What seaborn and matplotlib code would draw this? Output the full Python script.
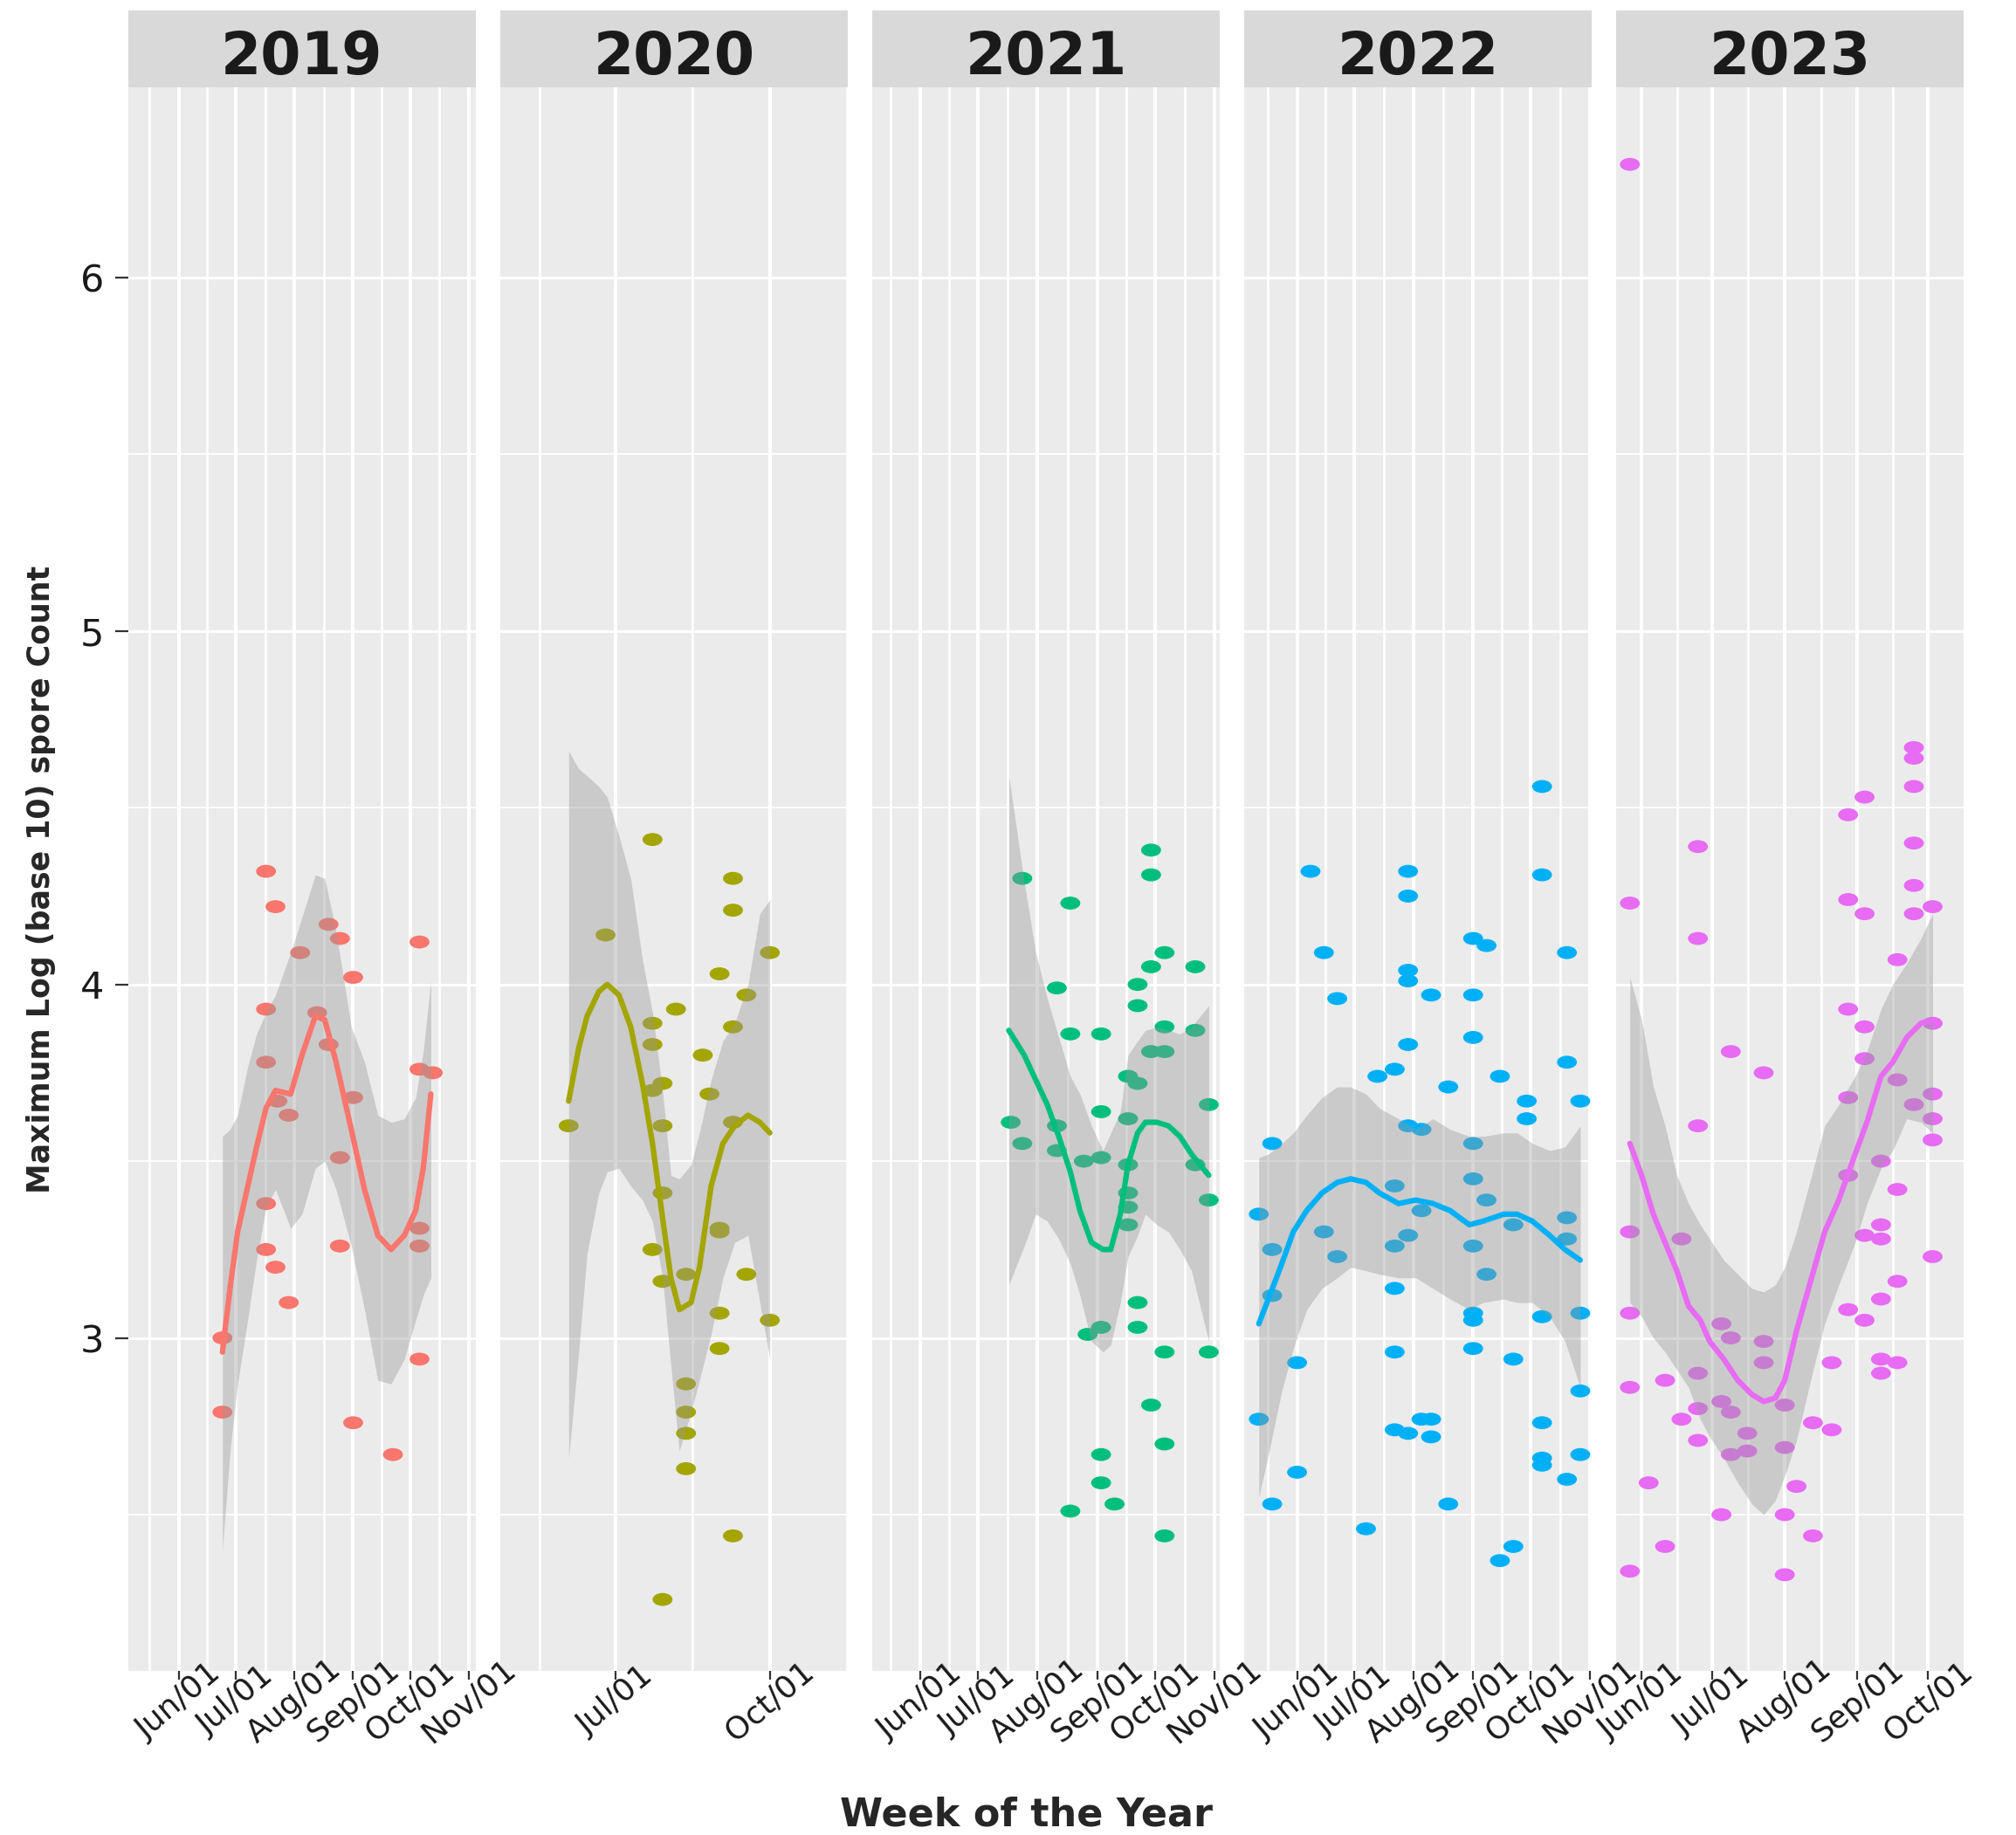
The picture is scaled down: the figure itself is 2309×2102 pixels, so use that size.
import seaborn as sns
import pandas as pd
import numpy as np
import matplotlib.pyplot as plt
import matplotlib.dates as mdates
from matplotlib.path import Path
from matplotlib.patches import Rectangle

years = [2019, 2020, 2021, 2022, 2023]
year_colors = ["#F8766D", "#A3A500", "#00BF7D", "#00B0F6", "#E76BF3"]

# weekly samples (month-day) and max log10 spore count
days_2019 = ["06-24", "06-24", "07-17", "07-17", "07-17", "07-17", "07-17", "07-22", "07-22", "07-23",
             "07-29", "07-29", "08-04", "08-13", "08-19", "08-19", "08-25", "08-25", "08-25", "09-01",
             "09-01", "09-01", "09-22", "10-06", "10-06", "10-06", "10-06", "10-06", "10-13"]
counts_2019 = [3.00, 2.79, 4.32, 3.93, 3.78, 3.38, 3.25, 4.22, 3.20, 3.67,
               3.63, 3.10, 4.09, 3.92, 4.17, 3.83, 4.13, 3.51, 3.26, 4.02,
               3.68, 2.76, 2.67, 4.12, 3.76, 3.31, 3.26, 2.94, 3.75]

days_2020 = ["06-03", "06-25", "07-23", "07-23", "07-23", "07-23", "07-23", "07-29", "07-29", "07-29",
             "07-29", "07-29", "08-06", "08-12", "08-12", "08-12", "08-12", "08-12", "08-22", "08-26",
             "09-01", "09-01", "09-01", "09-01", "09-01", "09-09", "09-09", "09-09", "09-09", "09-09",
             "09-17", "09-17", "10-01", "10-01"]
counts_2020 = [3.60, 4.14, 4.41, 3.89, 3.83, 3.70, 3.25, 3.72, 3.60, 3.41,
               3.16, 2.26, 3.93, 3.18, 2.87, 2.79, 2.73, 2.63, 3.80, 3.69,
               4.03, 3.31, 3.30, 3.07, 2.97, 4.30, 4.21, 3.88, 3.61, 2.44,
               3.97, 3.18, 4.09, 3.05]

days_2021 = ["07-18", "07-24", "07-24", "08-11", "08-11", "08-11", "08-18", "08-18", "08-18", "08-25",
             "08-27", "09-03", "09-03", "09-03", "09-03", "09-03", "09-03", "09-10", "09-17", "09-17",
             "09-17", "09-17", "09-17", "09-17", "09-22", "09-22", "09-22", "09-22", "09-22", "09-29",
             "09-29", "09-29", "09-29", "09-29", "10-06", "10-06", "10-06", "10-06", "10-06", "10-06",
             "10-22", "10-22", "10-22", "10-29", "10-29", "10-29"]
counts_2021 = [3.61, 4.30, 3.55, 3.99, 3.60, 3.53, 4.23, 3.86, 2.51, 3.50,
               3.01, 3.86, 3.64, 3.51, 3.03, 2.67, 2.59, 2.53, 3.74, 3.62,
               3.49, 3.41, 3.37, 3.32, 4.00, 3.94, 3.72, 3.10, 3.03, 4.38,
               4.31, 4.05, 3.81, 2.81, 4.09, 3.88, 3.81, 2.96, 2.70, 2.44,
               4.05, 3.87, 3.49, 3.66, 3.39, 2.96]

days_2022 = ["05-12", "05-12", "05-19", "05-19", "05-19", "05-19", "06-01", "06-01", "06-08", "06-15",
             "06-15", "06-22", "06-22", "07-07", "07-13", "07-22", "07-22", "07-22", "07-22", "07-22",
             "07-22", "07-29", "07-29", "07-29", "07-29", "07-29", "07-29", "07-29", "07-29", "08-05",
             "08-05", "08-05", "08-10", "08-10", "08-10", "08-19", "08-19", "09-01", "09-01", "09-01",
             "09-01", "09-01", "09-01", "09-01", "09-01", "09-01", "09-08", "09-08", "09-08", "09-15",
             "09-15", "09-22", "09-22", "09-22", "09-29", "09-29", "10-07", "10-07", "10-07", "10-07",
             "10-07", "10-07", "10-20", "10-20", "10-20", "10-20", "10-20", "10-27", "10-27", "10-27",
             "10-27"]
counts_2022 = [3.35, 2.77, 3.55, 3.25, 3.12, 2.53, 2.93, 2.62, 4.32, 4.09,
               3.30, 3.96, 3.23, 2.46, 3.74, 3.76, 3.43, 3.26, 3.14, 2.96,
               2.74, 4.32, 4.25, 4.04, 4.01, 3.83, 3.60, 3.29, 2.73, 3.59,
               3.36, 2.77, 3.97, 2.77, 2.72, 3.71, 2.53, 4.13, 3.97, 3.85,
               3.55, 3.45, 3.26, 3.07, 3.05, 2.97, 4.11, 3.39, 3.18, 3.74,
               2.37, 3.32, 2.94, 2.41, 3.67, 3.62, 4.56, 4.31, 3.06, 2.76,
               2.66, 2.64, 4.09, 3.78, 3.34, 3.28, 2.60, 3.67, 3.07, 2.85,
               2.67]

days_2023 = ["05-27", "05-27", "05-27", "05-27", "05-27", "05-27", "06-04", "06-11", "06-11", "06-18",
             "06-18", "06-25", "06-25", "06-25", "06-25", "06-25", "06-25", "07-05", "07-05", "07-05",
             "07-09", "07-09", "07-09", "07-09", "07-16", "07-16", "07-23", "07-23", "07-23", "08-01",
             "08-01", "08-01", "08-01", "08-06", "08-13", "08-13", "08-21", "08-21", "08-28", "08-28",
             "08-28", "08-28", "08-28", "08-28", "09-04", "09-04", "09-04", "09-04", "09-04", "09-04",
             "09-11", "09-11", "09-11", "09-11", "09-11", "09-11", "09-18", "09-18", "09-18", "09-18",
             "09-18", "09-25", "09-25", "09-25", "09-25", "09-25", "09-25", "09-25", "10-03", "10-03",
             "10-03", "10-03", "10-03", "10-03"]
counts_2023 = [6.32, 4.23, 3.30, 3.07, 2.86, 2.34, 2.59, 2.88, 2.41, 3.28,
               2.77, 4.39, 4.13, 3.60, 2.90, 2.80, 2.71, 3.04, 2.82, 2.50,
               3.81, 3.00, 2.79, 2.67, 2.73, 2.68, 3.75, 2.99, 2.93, 2.81,
               2.69, 2.50, 2.33, 2.58, 2.76, 2.44, 2.93, 2.74, 4.48, 4.24,
               3.93, 3.68, 3.46, 3.08, 4.53, 4.20, 3.88, 3.79, 3.29, 3.05,
               3.50, 3.32, 3.28, 3.11, 2.94, 2.90, 4.07, 3.73, 3.42, 3.16,
               2.93, 4.67, 4.64, 4.56, 4.40, 4.28, 4.20, 3.66, 4.22, 3.89,
               3.69, 3.62, 3.56, 3.23]

# loess smooth and its confidence band
fit_days_2019 = ["06-24", "06-28", "07-02", "07-07", "07-12", "07-17", "07-22", "07-30", "08-05", "08-12",
                 "08-17", "08-23", "08-31", "09-07", "09-14", "09-21", "09-28", "10-04", "10-08", "10-12"]
fit_2019 = [2.96, 3.14, 3.30, 3.42, 3.54, 3.65, 3.70, 3.69, 3.80, 3.91,
            3.90, 3.78, 3.59, 3.42, 3.29, 3.25, 3.29, 3.36, 3.48, 3.69]
fit_lo_2019 = [2.40, 2.68, 2.87, 3.04, 3.22, 3.37, 3.42, 3.31, 3.35, 3.48,
               3.50, 3.42, 3.26, 3.08, 2.88, 2.87, 2.94, 3.05, 3.12, 3.17]
fit_hi_2019 = [3.57, 3.59, 3.63, 3.76, 3.86, 3.92, 3.97, 4.09, 4.19, 4.31,
               4.30, 4.15, 3.88, 3.78, 3.63, 3.61, 3.62, 3.68, 3.81, 4.01]

fit_days_2020 = ["06-03", "06-09", "06-14", "06-21", "06-26", "07-03", "07-10", "07-17", "07-23", "07-29",
                 "08-03", "08-08", "08-15", "08-20", "08-27", "09-03", "09-10", "09-18", "09-25", "10-01"]
fit_2020 = [3.67, 3.82, 3.91, 3.98, 4.00, 3.97, 3.88, 3.72, 3.55, 3.34,
            3.17, 3.08, 3.10, 3.20, 3.43, 3.55, 3.60, 3.63, 3.61, 3.58]
fit_lo_2020 = [2.66, 2.96, 3.24, 3.41, 3.47, 3.48, 3.43, 3.39, 3.33, 3.17,
               2.92, 2.68, 2.79, 2.88, 3.01, 3.17, 3.27, 3.29, 3.10, 2.94]
fit_hi_2020 = [4.66, 4.61, 4.59, 4.56, 4.53, 4.42, 4.30, 4.07, 3.92, 3.70,
               3.46, 3.45, 3.49, 3.58, 3.73, 3.84, 3.89, 4.00, 4.20, 4.24]

fit_days_2021 = ["07-17", "07-25", "07-31", "08-06", "08-12", "08-18", "08-23", "08-29", "09-04", "09-08",
                 "09-13", "09-17", "09-22", "09-26", "10-02", "10-08", "10-14", "10-20", "10-29"]
fit_2021 = [3.87, 3.80, 3.73, 3.66, 3.57, 3.47, 3.36, 3.27, 3.25, 3.25,
            3.35, 3.49, 3.58, 3.61, 3.61, 3.60, 3.57, 3.52, 3.46]
fit_lo_2021 = [3.15, 3.26, 3.35, 3.33, 3.28, 3.21, 3.12, 2.99, 2.96, 2.98,
               3.10, 3.23, 3.29, 3.35, 3.32, 3.30, 3.25, 3.19, 2.99]
fit_hi_2021 = [4.59, 4.29, 4.09, 3.96, 3.85, 3.74, 3.69, 3.60, 3.53, 3.58,
               3.64, 3.80, 3.84, 3.87, 3.88, 3.87, 3.86, 3.88, 3.94]

fit_days_2022 = ["05-12", "05-17", "05-24", "05-30", "06-06", "06-14", "06-22", "06-29", "07-07", "07-14",
                 "07-24", "08-02", "08-11", "08-20", "08-30", "09-06", "09-17", "09-24", "10-02", "10-11",
                 "10-19", "10-27"]
fit_2022 = [3.04, 3.11, 3.21, 3.30, 3.36, 3.41, 3.44, 3.45, 3.44, 3.41,
            3.38, 3.39, 3.38, 3.36, 3.32, 3.33, 3.35, 3.35, 3.33, 3.29,
            3.25, 3.22]
fit_lo_2022 = [2.55, 2.67, 2.85, 2.97, 3.08, 3.14, 3.17, 3.20, 3.19, 3.18,
               3.17, 3.17, 3.14, 3.11, 3.08, 3.10, 3.11, 3.10, 3.10, 3.06,
               2.99, 2.86]
fit_hi_2022 = [3.51, 3.52, 3.55, 3.58, 3.63, 3.68, 3.71, 3.71, 3.69, 3.65,
               3.62, 3.59, 3.62, 3.59, 3.57, 3.57, 3.58, 3.58, 3.55, 3.53,
               3.54, 3.60]

fit_days_2023 = ["05-27", "06-01", "06-06", "06-11", "06-16", "06-21", "06-26", "06-30", "07-06", "07-12",
                 "07-18", "07-23", "07-28", "08-01", "08-06", "08-12", "08-18", "08-24", "08-31", "09-05",
                 "09-11", "09-16", "09-22", "09-28", "10-03"]
fit_2023 = [3.55, 3.46, 3.35, 3.27, 3.19, 3.09, 3.05, 2.99, 2.94, 2.88,
            2.84, 2.82, 2.83, 2.88, 3.02, 3.16, 3.30, 3.39, 3.52, 3.61,
            3.74, 3.78, 3.85, 3.89, 3.90]
fit_lo_2023 = [3.10, 3.06, 3.00, 2.96, 2.91, 2.86, 2.77, 2.72, 2.66, 2.59,
               2.53, 2.50, 2.54, 2.61, 2.71, 2.88, 3.04, 3.15, 3.27, 3.38,
               3.48, 3.53, 3.62, 3.61, 3.58]
fit_hi_2023 = [4.02, 3.90, 3.71, 3.60, 3.46, 3.38, 3.32, 3.28, 3.22, 3.18,
               3.14, 3.13, 3.15, 3.20, 3.30, 3.45, 3.60, 3.66, 3.74, 3.81,
               3.93, 4.00, 4.06, 4.13, 4.20]

# free x scale of every facet: limits and date breaks (first, last, months apart)
x_limits = {2019: ("2019-05-05 08:00", "2019-11-04 16:00"),
            2020: ("2020-04-23 06:00", "2020-11-16 10:00"),
            2021: ("2021-05-07 00:00", "2021-11-03 16:00"),
            2022: ("2022-05-04 10:00", "2022-11-01 22:00"),
            2023: ("2023-05-21 05:00", "2023-10-16 05:00")}
x_breaks = {2019: ("2019-05-01", "2019-12-01", 1),
            2020: ("2020-04-01", "2021-01-01", 3),
            2021: ("2021-05-01", "2021-12-01", 1),
            2022: ("2022-05-01", "2022-12-01", 1),
            2023: ("2023-05-01", "2023-11-01", 1)}
y_breaks = [3, 4, 5, 6]
y_minor = [2.5, 3.5, 4.5, 5.5]

point_cols = {2019: (days_2019, counts_2019), 2020: (days_2020, counts_2020),
              2021: (days_2021, counts_2021), 2022: (days_2022, counts_2022),
              2023: (days_2023, counts_2023)}
fit_cols = {2019: (fit_days_2019, fit_2019, fit_lo_2019, fit_hi_2019),
            2020: (fit_days_2020, fit_2020, fit_lo_2020, fit_hi_2020),
            2021: (fit_days_2021, fit_2021, fit_lo_2021, fit_hi_2021),
            2022: (fit_days_2022, fit_2022, fit_lo_2022, fit_hi_2022),
            2023: (fit_days_2023, fit_2023, fit_lo_2023, fit_hi_2023)}

sns.set_theme(style="darkgrid", rc={"axes.facecolor": "#EBEBEB", "figure.facecolor": "white"})
plt.rcParams['font.family'] = ['DejaVu Sans']

fig, axes = plt.subplots(1, 5, figsize=(23.09, 21.02), dpi=100, sharey=True)
fig.subplots_adjust(left=147 / 2309, right=2249 / 2309, bottom=1 - 1914 / 2102,
                    top=1 - 100 / 2102, wspace=0.071)

# points in the original look horizontally stretched
circ = Path.unit_circle()
ellipse = Path(circ.vertices * [1, 0.65], circ.codes)

strip_h = 88 / 1814
for i, (ax, yr, col) in enumerate(zip(axes, years, year_colors)):
    # rotated labels run up to the right, so keep each facet above its right neighbour
    ax.set_zorder(10 - i)
    d, c = point_cols[yr]
    pts = pd.DataFrame({"date": pd.to_datetime([f"{yr}-{x}" for x in d]), "count": c})
    fd, fv, flo, fhi = fit_cols[yr]
    fit = pd.DataFrame({"date": pd.to_datetime([f"{yr}-{x}" for x in fd]),
                        "fit": fv, "lo": flo, "hi": fhi})

    sns.scatterplot(data=pts, x="date", y="count", color=col, marker=ellipse, s=270,
                    linewidth=0, edgecolor="none", ax=ax, zorder=2)
    ax.fill_between(fit["date"], fit["lo"], fit["hi"], color="#999999", alpha=0.4,
                    lw=0, zorder=3)
    sns.lineplot(data=fit, x="date", y="fit", color=col, lw=4.5, ax=ax, zorder=4)

    b0, b1, step = x_breaks[yr]
    majors = pd.date_range(b0, b1, freq=f"{step}MS")
    minors = majors[:-1] + (majors[1:] - majors[:-1]) / 2
    ax.set_xticks(majors)
    ax.xaxis.set_major_formatter(mdates.DateFormatter("%b/%d"))
    lo, hi = x_limits[yr]
    ax.set_yticks(y_breaks, labels=[str(v) for v in y_breaks])
    ax.set_ylim(2.058, 6.538)

    # panel grid as plain lines under the axis, so tick labels stay on top of it
    ax.grid(False)
    ax.set_axisbelow(True)
    for x in majors:
        ax.axvline(x, color="white", lw=2.9, zorder=0.3)
    for x in minors:
        ax.axvline(x, color="white", lw=1.9, zorder=0.3)
    for y in y_breaks:
        ax.axhline(y, color="white", lw=2.2, zorder=0.3)
    for y in y_minor:
        ax.axhline(y, color="white", lw=1.3, zorder=0.3)
    # limits last, so the outer breaks do not widen the view
    ax.set_xlim(pd.Timestamp(lo), pd.Timestamp(hi))

    for s in ax.spines.values():
        s.set_visible(False)

    ax.tick_params(axis="x", which="major", bottom=True, length=7, width=1.6,
                   color="#333333", pad=18, labelsize=26, labelcolor="#1A1A1A")
    plt.setp(ax.get_xticklabels(), rotation=40, ha="center", va="center",
             rotation_mode="anchor")
    ax.set_xlabel("")
    ax.set_ylabel("")

    # facet strip
    ax.add_patch(Rectangle((0, 1), 1, strip_h, transform=ax.transAxes, facecolor="#D9D9D9",
                           edgecolor="none", clip_on=False))
    ax.text(0.5, 1 + 15 / 1814, str(yr), transform=ax.transAxes, ha="center", va="baseline",
            fontsize=48, fontweight="bold", color="#1A1A1A")

axes[0].tick_params(axis="y", which="major", left=True, length=11, width=1.6, color="#333333",
                    pad=9, labelsize=31, labelcolor="#1A1A1A")
for ax in axes[1:]:
    ax.tick_params(axis="y", which="major", left=False)

fig.text(1175 / 2309, 1 - 2079 / 2102, "Week of the Year", ha="center", va="center",
         fontsize=32, fontweight="bold")
fig.text(47 / 2309, 1 - 1007 / 2102, "Maximum Log (base 10) spore Count", ha="center",
         va="center", rotation=90, fontsize=25, fontweight="bold")

plt.savefig("out.png", dpi=100)
